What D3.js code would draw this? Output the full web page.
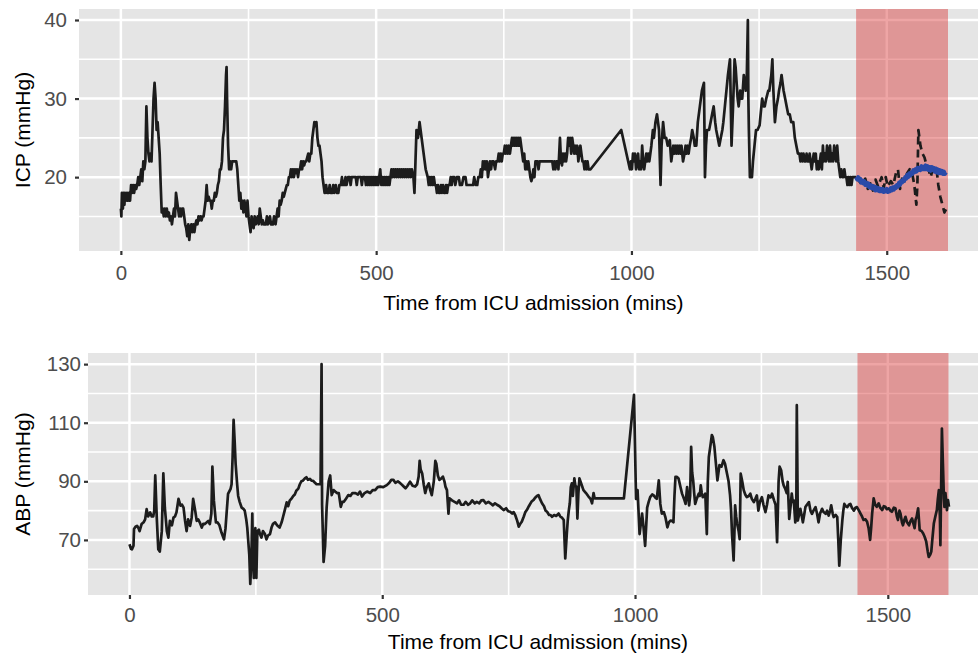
<!DOCTYPE html>
<html>
<head>
<meta charset="utf-8">
<script src="https://cdn.jsdelivr.net/npm/d3@7"></script>
<style>
  body { margin: 0; background: #ffffff; }
  svg { display: block; }
  text { font-family: "Liberation Sans", Arial, Helvetica, sans-serif; }
</style>
</head>
<body>
<svg id="chart" width="978" height="655"></svg>
<script>
// ICP (mmHg) against minutes since ICU admission
const icpObserved = [
  [0,16],[1,15],[2,18],[4,16],[5,18],[7,16.5],[8,18],[10,17],[12,18],[14,17],[16,18],[18,17],[20,19],[22,18],[24,19],[26,18],[28,19],[30,18.5],[32,19],[34,20],[36,19],[38,20],[40,21],[42,19.5],[44,22],[46,21],[48,22],[50,29],[52,25],[54,23],[56,22],[58,23],[60,22],[62,26],[64,30],[66,32],[68,30],[70,26],[72,27],[74,25],[76,23],[78,19],[80,15.5],[82,16],[84,15],[86,16],[88,15],[90,16],[92,15],[94,15.5],[96,14.5],[98,15],[100,14],[102,15],[104,16],[106,15],[108,18],[110,17],[112,16],[114,15],[116,16],[118,15],[120,16],[122,16],[124,15],[126,14],[128,13.5],[130,12.5],[132,14],[134,12],[136,13.5],[138,14],[140,13],[142,14],[144,13],[146,14],[148,14.5],[150,14],[152,15],[154,14.5],[156,15],[158,14.5],[160,15],[162,15],[164,16],[166,17],[168,19],[170,17],[172,17.5],[174,17],[176,17],[178,16],[180,17],[182,17],[184,18],[186,17.5],[188,18],[190,19],[192,19.5],[194,21],[196,21],[198,22],[200,25],[202,26],[204,29],[206,33],[207,34],[208,30],[210,24],[212,21],[214,22],[216,21],[218,22],[226,22],[228,21],[230,19],[232,17],[234,18],[236,16],[238,17],[240,15.5],[242,17],[244,16],[246,15],[248,17],[250,15],[252,14],[254,13],[256,15],[258,14],[260,13.5],[262,15],[264,14],[266,14.5],[268,15],[270,14],[272,16],[274,15],[276,14],[278,14.5],[280,14],[284,14],[286,15],[288,14],[292,15],[294,14],[298,14],[300,15],[303,14],[305,15],[307,16],[309,15],[311,17],[313,16.5],[315,17],[317,18],[319,17.5],[321,18],[323,18.5],[325,19],[327,19],[329,20],[331,20],[333,21],[335,20],[337,21],[339,20],[341,21],[343,20.5],[345,21],[347,20],[349,21],[351,21],[353,22],[355,21],[357,22],[359,21.5],[361,22],[363,22],[365,22.5],[367,23],[369,22],[371,23],[373,23],[375,25],[377,26],[379,27],[381,26.5],[383,27],[385,25],[387,24],[389,24],[391,23],[393,22],[395,20],[397,19],[399,18],
  [400,18],[402,19],[404,18],[407,18],[409,19],[411,18],[414,18],[416,19],[418,18],[421,19],[423,18],[426,18],[428,19],[431,19],[433,20],[435,19],[438,19],[440,20],[442,19],[445,20],[448,20],[450,19],[452,20],[460,20],[462,19],[464,20],[470,20],[472,19],[474,20],[478,20],[480,19],[482,20],[484,19],[486,20],[488,19],[490,20],[492,19],[494,20],[496,19],[498,20],[500,19],[502,20],[504,19],[506,20],[508,21],[510,19],[512,20],[514,19],[516,20],[518,19],[520,20],[522,19],[524,20],[526,19],[528,20],[530,21],[532,20],[534,21],[536,20],[538,21],[540,20],[542,21],[544,20],[546,21],[548,20],[550,21],[552,20],[554,21],[556,20],[558,21],[560,20],[562,21],[564,20],[566,21],[568,20],[570,21],[573,20],[575,18],[577,22],[579,26],[582,25],[585,27],[587,26],[589,25],[591,24],[593,23],[595,22],[597,21],[599,20.5],[601,20],[603,19],[605,20],[607,19],[609,20],[611,19],[613,20],[615,19],[617,19],[619,18],[621,19],[623,18],[625,18],[627,19],[629,18],[631,19],[633,18],[635,18],[637,19],[639,18],[641,19],[644,19],[646,20],[648,19],[650,20],[653,20],[655,19],[658,20],[662,20],[664,19],[668,19],[671,20],[675,20],[677,19],[680,19],[690,19],[692,20],[695,19],[698,19],[700,20],[703,20],[705,21],[707,20],[709,22],[711,21],[713,22],[715,21],[717,22],[719,20],[721,21],[723,22],[725,21],[727,22],[730,22],[733,21],[735,22],[738,22],[740,23],[742,22],[744,23],[746,22],[748,23],[750,23],[752,24],[754,23],[756,24],[758,23],[760,24],[762,23],[764,24],[766,25],[768,24],[770,25],[772,24],[774,25],[776,24],[778,25],[780,24],[782,25],[784,24],[786,23],[788,22],[790,23],[792,21],[794,22],[796,21],[798,22],[800,21],[802,20],[804,19.5],[806,20],[808,21],[810,20],[812,22],[816,22],[818,21],[820,22],[830,22],[840,22],[845,22],[847,21],[849,22],[851,21],[853,22],[855,22],[857,21],[860,25],[862,22],[864,21.5],[866,23],[868,22],[870,23],[872,22],[874,23],[876,25],[878,24],[880,25],[882,23],[884,25],[886,24],[888,23],[890,24],[892,23],[894,24],[896,22],[898,23],[900,24],[902,23],[904,22],[906,22],[908,21],[910,22],[912,21],[914,22],[916,21],[920,21],
  [980,26],[997,21],[999,22],[1001,21],[1003,23],[1005,22],[1007,23],[1009,21],[1011,22],[1013,23],[1015,21],[1017,22],[1019,21],[1021,24],[1023,22],[1025,21],[1027,22],[1029,23],[1031,22],[1033,23],[1035,22],[1037,23],[1039,24],[1042,26],[1044,25],[1047,27],[1050,28],[1052,27],[1054,26],[1057,19],[1059,24],[1062,27],[1065,25],[1068,25],[1071,24],[1075,24.7],[1078,22],[1080,23],[1082,24],[1084,23],[1086,24],[1088,23],[1090,24],[1092,23],[1094,24],[1096,23],[1098,24],[1101,22],[1104,23],[1106,24],[1108,23],[1110,24],[1112,23],[1114,24],[1117,25],[1119,26],[1122,25],[1124,24],[1127,24],[1130,27],[1134,29],[1138,31],[1142,32],[1144,20],[1146,24],[1148,26],[1152,26],[1155,27],[1158,28],[1161,29],[1164,27],[1166,26],[1169,25],[1172,24],[1175,25],[1178,26],[1180,27],[1183,29],[1186,31],[1189,33],[1193,35],[1196,24],[1199,29],[1202,35],[1204,34],[1206,32],[1208,30],[1210,29],[1213,31],[1215,30],[1217,30],[1220,33],[1222,32],[1224,31],[1226,33],[1228,40],[1229,30],[1230,26],[1232,20],[1236,20],[1238,22],[1241,24],[1244,26],[1247,26],[1251,26.6],[1253,28],[1256,30],[1259,29],[1261,29],[1264,30],[1268,31],[1270,31],[1272,32],[1274,33],[1276,35],[1278,31],[1281,27],[1284,29],[1287,30],[1289,31],[1292,32],[1294,33],[1296,32],[1298,31],[1301,30],[1304,29],[1307,28],[1310,28],[1313,27],[1317,27],[1320,25],[1323,24],[1326,23],[1329,23],[1331,22],[1333,23],[1335,22],[1337,23],[1339,22],[1341,22],[1343,23],[1345,22],[1347,22],[1349,23],[1351,22],[1353,21],[1355,22],[1357,23],[1359,22],[1361,23],[1363,21],[1365,22],[1367,21],[1369,22],[1371,23],[1373,21],[1375,24],[1377,22],[1379,23],[1381,22],[1383,24],[1385,23],[1387,22],[1389,24],[1391,22],[1393,23],[1395,22],[1397,24],[1399,23],[1401,22],[1403,24],[1405,22],[1407,21],[1409,20],[1411,21],[1413,20],[1415,20],[1417,21],[1419,20],[1421,20],[1423,19],[1425,20],[1427,19],[1429,20],[1431,19],[1433,20],[1435,20],[1437,20],[1440,20]
];

// ICP recorded inside the forecast window (drawn dashed)
const icpHeldOut = [
  [1440,20],[1446,19.5],[1452,19],[1458,19.8],[1463,18.5],[1468,19.2],[1473,18.3],[1478,19.7],[1483,18.8],[1490,20],[1494,18.6],[1498,20],[1502,18.8],[1508,19.5],[1513,19],[1518,20.5],[1522,21],[1526,18.5],[1530,19.8],[1535,19.5],[1540,20.5],[1545,21],[1549,20.8],[1554,19],[1558,16.5],[1560,19],[1562,26],[1566,24],[1570,23],[1574,22.5],[1578,21.5],[1582,21],[1586,20],[1590,21],[1594,20.5],[1598,20.8],[1601,19],[1605,17.5],[1609,16.5],[1613,15.5],[1617,16]
];

// Forecast ICP over the same window
const icpPredicted = [
  [1440,20.0],[1442,19.7],[1444,20.0],[1446,19.6],[1448,19.8],[1450,19.3],[1452,19.6],[1454,19.2],[1456,19.5],[1458,19.0],[1460,19.3],[1462,18.9],[1464,19.2],[1466,18.7],[1468,19.0],[1470,18.6],[1472,18.9],[1474,18.5],[1476,18.8],[1478,18.3],[1480,18.7],[1482,18.3],[1484,18.6],[1486,18.2],[1488,18.5],[1490,18.2],[1492,18.5],[1494,18.1],[1496,18.4],[1498,18.2],[1500,18.5],[1502,18.1],[1504,18.4],[1506,18.2],[1508,18.6],[1510,18.3],[1512,18.7],[1514,18.4],[1516,18.8],[1518,18.6],[1520,19.0],[1522,18.8],[1524,19.3],[1526,19.0],[1528,19.5],[1530,19.3],[1532,19.7],[1534,19.5],[1536,20.0],[1538,19.8],[1540,20.3],[1542,20.0],[1544,20.5],[1546,20.2],[1548,20.6],[1550,20.4],[1552,20.9],[1554,20.6],[1556,21.0],[1558,20.7],[1560,21.2],[1562,20.9],[1564,21.2],[1566,20.9],[1568,21.4],[1570,21.0],[1572,21.3],[1574,21.0],[1576,21.5],[1578,21.0],[1580,21.4],[1582,20.9],[1584,21.3],[1586,20.8],[1588,21.3],[1590,20.9],[1592,21.2],[1594,20.7],[1596,21.1],[1598,20.6],[1600,21.0],[1602,20.5],[1604,20.9],[1606,20.5],[1608,20.8],[1610,20.4],[1612,20.7],[1614,20.4],[1616,20.6]
];

// ABP (mmHg) against minutes since ICU admission
const abpObserved = [
  [0,68.5],[3,67],[5,66.8],[8,68],[9,73.7],[12,74.5],[15,74.8],[18,74],[20,73],[24,75.4],[28,76],[31,77],[34,80.5],[37,78],[41,79.4],[44,78],[47,78],[49,80],[51,92],[54,77.6],[57,66.8],[60,66],[64,73],[67,92.7],[70,81],[74,73],[77,70.8],[80,76.5],[84,75],[87,77.6],[90,78],[93,79.4],[97,84],[101,81.7],[104,82],[107,81],[110,76.5],[113,73],[116,77],[120,74.8],[123,77.6],[126,84],[130,80],[133,76.5],[136,77],[139,76],[143,74.2],[146,75.5],[149,75.4],[153,76],[156,76.5],[159,75.4],[162,79],[164,95],[167,83.4],[171,76],[174,76],[178,75],[182,72.5],[187,70.2],[190,74],[192,78.8],[195,85.7],[200,87.4],[202,89],[204,98],[206,111],[208,104],[210,96],[213,89],[215,85],[218,83],[222,81],[226,80.5],[228,80],[231,77],[233,74.2],[237,65],[239,55],[241,62.8],[243,79],[244,68],[246,57],[247,66],[249,74],[250,60],[251,57],[253,73],[256,73.5],[258,72],[261,70.8],[264,73],[268,72],[271,70.2],[274,71.5],[278,72],[281,74.2],[284,75.5],[288,76],[292,75],[297,74.2],[301,76],[304,78],[307,80],[311,82.8],[314,81.5],[317,83.4],[320,84],[324,85],[327,85.5],[330,86.8],[334,87.5],[337,89],[340,90],[343,90.2],[347,91],[350,91.4],[353,90.5],[357,90.8],[360,90.2],[363,90.2],[367,89.5],[370,89],[375,89],[378,89],[380,130],[381,82],[384,62.5],[387,68],[390,81],[394,90],[397,92],[400,85.3],[404,87],[407,86.5],[411,86],[414,86],[418,81.3],[421,83],[424,83],[428,84],[433,85.3],[437,85],[441,86],[447,86],[452,85.5],[456,86.5],[460,84.8],[465,86],[470,86.5],[476,86],[481,87],[486,87],[491,88],[496,88.2],[502,88],[509,88.7],[514,89.5],[518,90.5],[522,90.5],[526,89.5],[531,90],[536,89.3],[541,88.5],[546,87.6],[550,88.5],[555,89.9],[560,88.5],[565,88.2],[569,89],[572,91.6],[574,97],[576,94],[579,92.7],[582,89],[585,86],[588,88],[592,89.3],[595,87],[598,85.3],[602,90],[605,97],[607,96],[610,92],[613,90.5],[617,91],[620,91.6],[623,90],[625,88.2],[628,87],[631,79],[633,84.2],[638,83.5],[643,83],[648,82.5],[652,83.5],[656,82],[661,82],[665,83],[670,82],[674,82.5],[678,83.5],[683,82.5],[687,83],[692,82.5],[696,83.5],[700,83.6],[705,82.5],[710,83],[714,82.5],[719,81.8],[723,82.5],[727,82],[732,81.5],[736,80.8],[740,80.2],[745,80.8],[749,79.8],[753,79.6],[757,79],[760,79.5],[763,78.5],[767,76.5],[770,74.5],[773,75.5],[776,76.2],[780,78],[783,79.5],[786,80.2],[790,81.5],[795,83],[799,83.6],[803,84.5],[806,85],[809,85.3],[812,84],[816,82.5],[820,81.5],[823,80],[826,79.6],[830,78.5],[833,78.5],[836,77.9],[840,78.5],[844,78.2],[849,79],[852,78],[856,77.5],[859,76.8],[862,63.7],[865,72],[867,76.8],[869,80],[871,82.5],[873,88],[875,89.3],[877,85],[880,91],[882,88.5],[884,88.2],[886,77.3],[888,86],[890,91],[894,89],[898,87],[903,86],[908,84.8],[912,84],[915,82.5],[918,86],[920,84.2],[978,84.2],[998,119.5],[1002,84],[1005,87],[1009,72],[1014,79],[1017,74],[1020,68],[1024,81],[1027,83],[1030,84.6],[1034,85.5],[1037,85.2],[1040,84.5],[1043,84],[1047,90.3],[1050,82.3],[1053,79],[1057,79.5],[1060,77.8],[1064,74.3],[1067,76],[1070,76.6],[1073,76.5],[1076,76],[1078,85],[1080,91.5],[1083,91.5],[1086,91],[1090,88],[1093,85.8],[1097,84],[1100,82.3],[1103,88],[1107,81.8],[1109,85],[1111,101.8],[1113,93],[1115,90.3],[1117,86],[1119,82.3],[1122,84],[1126,85.8],[1128,85],[1130,88.6],[1132,86],[1134,84.6],[1137,85],[1139,85.8],[1142,72],[1144,90],[1146,98.3],[1149,102],[1152,105.8],[1154,105],[1157,101.8],[1160,96],[1163,90.3],[1165,93],[1167,95.5],[1171,95],[1175,97.2],[1178,96],[1182,92.6],[1185,90],[1188,85.2],[1190,80],[1192,71.5],[1194,66],[1195,63],[1197,75],[1198,81.8],[1200,78],[1202,75.5],[1205,73],[1207,70.3],[1209,92.6],[1212,90],[1215,87],[1218,85.5],[1221,84.6],[1225,85],[1228,85.8],[1231,84],[1235,82.9],[1238,84],[1241,85.2],[1244,80],[1247,83],[1251,84.6],[1254,82],[1258,79.5],[1261,82],[1264,85.2],[1268,84.5],[1271,85.8],[1275,83.5],[1278,82],[1281,69.2],[1284,90],[1286,95],[1289,93.8],[1292,90],[1294,88.6],[1297,87.5],[1300,86],[1302,89.8],[1305,77.2],[1308,82],[1310,85.8],[1312,83],[1314,83.5],[1317,76],[1319,80],[1320,116],[1322,76.6],[1325,79],[1327,80.6],[1330,78],[1332,76],[1335,79],[1337,81.2],[1340,82],[1344,82.9],[1347,80],[1350,78.9],[1353,80],[1357,81.2],[1360,79],[1363,76],[1366,79],[1370,80.6],[1373,79.5],[1377,78.9],[1380,80],[1383,78.3],[1386,80],[1388,81.8],[1391,79],[1393,77.8],[1397,78.5],[1400,77.8],[1402,70],[1404,61.2],[1407,70],[1410,76.6],[1412,80],[1414,82.3],[1417,81.5],[1420,81.2],[1423,82],[1426,82.3],[1429,81],[1433,80],[1436,81],[1439,81.2],[1443,80],[1446,79],[1449,78],[1452,76.8],[1456,77],[1459,76.2],[1462,74],[1465,70],[1467,74],[1469,79],[1472,84.2],[1475,82],[1478,81.3],[1482,82.5],[1485,81],[1489,80.2],[1492,81.5],[1495,81.3],[1498,80.5],[1502,80.8],[1505,80],[1508,79.6],[1512,81],[1515,80.8],[1518,78],[1520,76.8],[1523,80],[1525,79],[1528,76],[1530,75],[1533,77],[1535,77.9],[1538,76],[1542,75],[1545,76.5],[1548,77.3],[1550,76],[1553,74],[1555,77],[1557,77.9],[1560,80.8],[1562,76],[1563,73.4],[1567,73],[1570,72.2],[1573,71],[1576,69.4],[1579,66],[1581,64.2],[1584,65],[1586,66],[1588,70],[1591,75.6],[1594,78],[1597,80.2],[1599,84],[1601,87],[1603,78],[1604,68.2],[1606,95],[1607,108],[1609,96],[1611,84],[1612,81.3],[1614,86],[1617,80.2],[1619,83.6],[1621,81.3]
];

// Forecast window (minutes)
const highlightWindow = [1440, 1620];

// Axis breaks
const timeTicks = [0, 500, 1000, 1500];
const timeMinor = [250, 750, 1250];
const icpTicks = [20, 30, 40];
const icpMinor = [15, 25, 35];
const abpTicks = [70, 90, 110, 130];
const abpMinor = [60, 80, 100, 120];

const xTitle = "Time from ICU admission (mins)";

const svg = d3.select("#chart");
const plotRight = 996;
const timeDomain = [-82, 1714];

function drawPanel(p) {
  const x = d3.scaleLinear().domain(timeDomain).range([p.left, plotRight]);
  const y = d3.scaleLinear().domain(p.yDomain).range([p.bottom, p.top]);
  const g = svg.append("g");

  // panel background
  g.append("rect")
    .attr("x", p.left).attr("y", p.top)
    .attr("width", plotRight - p.left).attr("height", p.bottom - p.top)
    .attr("fill", "#E5E5E5");

  // grid: minor first, then major
  g.selectAll(null).data(p.yMinor).join("line")
    .attr("x1", p.left).attr("x2", plotRight)
    .attr("y1", d => y(d)).attr("y2", d => y(d))
    .attr("stroke", "#fff").attr("stroke-width", 1.6);
  g.selectAll(null).data(timeMinor).join("line")
    .attr("x1", d => x(d)).attr("x2", d => x(d))
    .attr("y1", p.top).attr("y2", p.bottom)
    .attr("stroke", "#fff").attr("stroke-width", 1.6);
  g.selectAll(null).data(p.yTicks).join("line")
    .attr("x1", p.left).attr("x2", plotRight)
    .attr("y1", d => y(d)).attr("y2", d => y(d))
    .attr("stroke", "#fff").attr("stroke-width", 2.5);
  g.selectAll(null).data(timeTicks).join("line")
    .attr("x1", d => x(d)).attr("x2", d => x(d))
    .attr("y1", p.top).attr("y2", p.bottom)
    .attr("stroke", "#fff").attr("stroke-width", 2.5);

  // forecast window
  g.append("rect")
    .attr("x", x(highlightWindow[0])).attr("y", p.top)
    .attr("width", x(highlightWindow[1]) - x(highlightWindow[0]))
    .attr("height", p.bottom - p.top)
    .attr("fill", "#d62828").attr("fill-opacity", 0.42);

  const line = d3.line().x(d => x(d[0])).y(d => y(d[1]));
  p.series.forEach(s => {
    g.append("path")
      .datum(s.data)
      .attr("d", line)
      .attr("fill", "none")
      .attr("stroke", s.color)
      .attr("stroke-width", s.width)
      .attr("stroke-linejoin", "round")
      .attr("stroke-dasharray", s.dash || null);
  });

  // axes
  const yAxis = d3.axisLeft(y).tickValues(p.yTicks).tickSize(4).tickPadding(p.yLabelGap);
  const ya = g.append("g").attr("transform", `translate(${p.left},0)`).call(yAxis);
  const xAxis = d3.axisBottom(x).tickValues(timeTicks).tickFormat(d3.format("d"))
    .tickSize(4).tickPadding(p.xLabelGap);
  const xa = g.append("g").attr("transform", `translate(0,${p.bottom})`).call(xAxis);
  [ya, xa].forEach(a => {
    a.select(".domain").remove();
    a.selectAll(".tick line").attr("stroke", "#333333").attr("stroke-width", 2.2);
    a.selectAll(".tick text")
      .attr("fill", "#4D4D4D")
      .style("font-size", "20.5px")
      .style("font-family", '"Liberation Sans", Arial, Helvetica, sans-serif');
  });

  // titles
  g.append("text")
    .attr("x", (p.left + plotRight) / 2 - 4).attr("y", p.xTitleY)
    .attr("text-anchor", "middle")
    .attr("fill", "#000")
    .style("font-size", "21px")
    .text(xTitle);
  g.append("text")
    .attr("transform", `translate(30,${(p.top + p.bottom) / 2}) rotate(-90)`)
    .attr("text-anchor", "middle")
    .attr("fill", "#000")
    .style("font-size", "21px")
    .text(p.yTitle);
}

drawPanel({
  left: 79, top: 9, bottom: 251,
  yDomain: [10.6, 41.4],
  yTicks: icpTicks, yMinor: icpMinor,
  yTitle: "ICP (mmHg)",
  yLabelGap: 8, xLabelGap: 10, xTitleY: 310,
  series: [
    { data: icpObserved, color: "#1c1c1c", width: 2.7 },
    { data: icpHeldOut, color: "#1c1c1c", width: 2.7, dash: "8,5" },
    { data: icpPredicted, color: "#2a4aa8", width: 4 }
  ]
});

drawPanel({
  left: 88, top: 353, bottom: 595,
  yDomain: [51.2, 133.8],
  yTicks: abpTicks, yMinor: abpMinor,
  yTitle: "ABP (mmHg)",
  yLabelGap: 3, xLabelGap: 8, xTitleY: 649,
  series: [
    { data: abpObserved, color: "#1c1c1c", width: 2.7 }
  ]
});
</script>
</body>
</html>
